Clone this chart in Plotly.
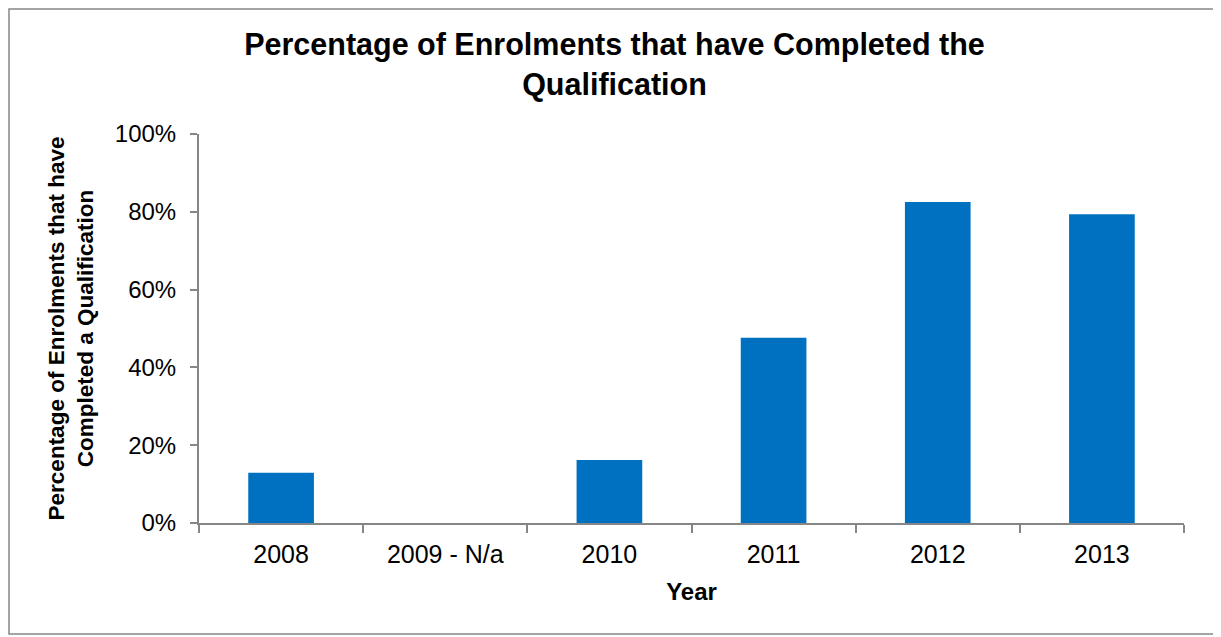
import plotly.graph_objects as go

years = ["2008", "2009 - N/a", "2010", "2011", "2012", "2013"]
completion = [0.129, None, 0.162, 0.476, 0.825, 0.794]

# page is offset by the 8px body margin
W, H = 1213, 629
L, T = 191, 126
R = W - (1184 - 8)
B = H - (523 - 8)
pw, ph = W - L - R, H - T - B

fig = go.Figure(go.Bar(x=years, y=completion, marker=dict(color="#0070C0", line=dict(width=0))))

axis_col = "#868686"
fig.update_layout(
    width=W, height=H,
    margin=dict(l=L, r=R, t=T, b=B),
    paper_bgcolor="white", plot_bgcolor="white",
    font=dict(family="Liberation Sans, Arial", color="black", size=24),
    bargap=0.6,
    showlegend=False,
    title=dict(
        text="<b>Percentage of Enrolments that have Completed the<br>Qualification</b>",
        x=0.5, xref="container", xanchor="center",
        y=1 - 47 / H, yref="container", yanchor="top",
        font=dict(size=30.5),
    ),
    xaxis=dict(
        type="category", tickson="boundaries", ticks="outside", ticklen=8,
        tickcolor=axis_col, tickwidth=2, showline=True, linecolor=axis_col, linewidth=2,
        showgrid=False, tickfont=dict(size=25), ticklabelstandoff=8,
        title=dict(text="<b>Year</b>", font=dict(size=24), standoff=16),
    ),
    yaxis=dict(
        range=[0, 1], tickvals=[0, 0.2, 0.4, 0.6, 0.8, 1.0], tickformat=".0%",
        ticks="outside", ticklen=7, tickcolor=axis_col, tickwidth=2,
        showline=True, linecolor=axis_col, linewidth=2, showgrid=False, zeroline=False,
        tickfont=dict(size=24), ticklabelstandoff=9,
        title=dict(text="<b>Percentage of Enrolments that have<br>Completed a Qualification</b>",
                   font=dict(size=22.5), standoff=15),
    ),
    shapes=[dict(
        type="rect", xref="paper", yref="paper",
        x0=(1 - L) / pw, x1=(1215 - 8 - L) / pw,
        y0=(H - B - (634 - 8)) / ph, y1=(H - B - 1) / ph,
        line=dict(color=axis_col, width=1.5), fillcolor="rgba(0,0,0,0)", layer="below",
    )],
)

fig.write_html("out.html")
